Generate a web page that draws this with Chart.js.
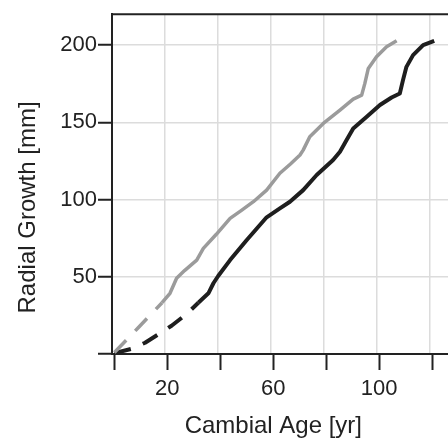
<!DOCTYPE html>
<html>
<head>
<meta charset="utf-8">
<script src="https://cdn.jsdelivr.net/npm/chart.js@4.4.1/dist/chart.umd.min.js"></script>
<style>
  body { margin: 0; background: #fff; }
  #wrap { width: 448px; height: 439px; }
</style>
</head>
<body>
<div id="wrap"><canvas id="growthChart"></canvas></div>
<script>
// estimated (dashed) part near the pith
var grayEstAge = [0, 9, 18];
var grayEstGrowth = [1, 17, 33.2];
var blackEstAge = [0, 6.5, 11.6, 17.2, 21.6, 27.3, 31.7];
var blackEstGrowth = [0.5, 3.4, 7.3, 13.4, 18.3, 25.9, 33.2];

// measured rings (solid)
var grayAge = [18, 21, 23.5, 26.5, 31.1, 33.6, 38.5, 43.7, 48, 52.5, 57.5, 62.5, 66.5, 70.1, 71.3, 73.8, 78.9, 85.2, 90.2, 93.4, 94.6, 95.9, 99, 102.8, 106.6];
var grayGrowth = [33.2, 39.3, 49, 54, 60.8, 68.4, 77.5, 87.8, 93, 98.6, 106.1, 117, 123, 128.8, 132, 140.6, 149.3, 157.9, 165, 167.6, 175.2, 184.9, 192.4, 198.9, 202.8];
var blackAge = [31.7, 35.5, 37.4, 39.2, 43.7, 50, 57.5, 62.5, 66.3, 71.3, 76.4, 82.6, 85.2, 87.7, 90.2, 95.3, 100.3, 104.7, 107.8, 109, 110.3, 112.8, 116.6, 120.8];
var blackGrowth = [33.2, 39.3, 45.8, 50.5, 60.8, 73.8, 88.5, 94.3, 98.6, 106.1, 115.9, 125.6, 131, 138.5, 146, 153.6, 161.2, 166.1, 168.7, 177.3, 185.9, 193.5, 200, 202.8];

var xTicks = [0, 20, 40, 60, 80, 100, 120];
var xLabels = [20, 60, 100];
var yTicks = [0, 50, 100, 150, 200];
var yLabels = [50, 100, 150, 200];

function pts(xs, ys) {
    return xs.map(function (x, i) { return { x: x, y: ys[i] }; });
}

var GRAY = '#9b9b9b';
var BLACK = '#1e1e1e';
var AXIS = '#222222';
var FONT = 'Liberation Sans, Arial, sans-serif';

var topBorder = {
    id: 'topBorder',
    afterDraw: function (chart) {
        var a = chart.chartArea;
        var c = chart.ctx;
        c.save();
        c.strokeStyle = AXIS;
        c.lineWidth = 2;
        c.beginPath();
        c.moveTo(a.left - 1, a.top);
        c.lineTo(a.right, a.top);
        c.stroke();
        c.restore();
    }
};

var ctx = document.getElementById('growthChart').getContext('2d');

var chart = new Chart(ctx, {
    type: 'line',
    data: {
        datasets: [
            { data: pts(grayEstAge, grayEstGrowth), borderColor: GRAY, borderWidth: 3.5, borderDash: [17, 13] },
            { data: pts(blackEstAge, blackEstGrowth), borderColor: BLACK, borderWidth: 4, borderDash: [17, 13] },
            { data: pts(grayAge, grayGrowth), borderColor: GRAY, borderWidth: 3.5 },
            { data: pts(blackAge, blackGrowth), borderColor: BLACK, borderWidth: 4 }
        ]
    },
    options: {
        responsive: true,
        maintainAspectRatio: false,
        animation: false,
        parsing: false,
        layout: { padding: { top: 14, right: 0, left: 0, bottom: 0 } },
        elements: {
            point: { radius: 0 },
            line: { tension: 0, fill: false, borderCapStyle: 'butt', borderJoinStyle: 'round' }
        },
        plugins: {
            legend: { display: false },
            tooltip: { enabled: false }
        },
        scales: {
            x: {
                type: 'linear',
                min: -0.9,
                max: 126,
                weight: 1,
                afterFit: function (s) { s.height = 85; },
                afterBuildTicks: function (s) {
                    s.ticks = xTicks.map(function (v) { return { value: v }; });
                },
                grid: {
                    drawOnChartArea: false,
                    drawTicks: true,
                    tickLength: 16,
                    tickColor: AXIS,
                    tickWidth: 2
                },
                border: { display: true, color: AXIS, width: 2 },
                ticks: {
                    padding: 6,
                    maxRotation: 0,
                    autoSkip: false,
                    color: AXIS,
                    font: { family: FONT, size: 22 },
                    callback: function (v) { return xLabels.indexOf(v) >= 0 ? String(v) : ''; }
                },
                title: {
                    display: true,
                    text: 'Cambial Age [yr]  ',
                    color: AXIS,
                    padding: { top: 0, bottom: -2 },
                    font: { family: FONT, size: 24 }
                }
            },
            xGrid: {
                type: 'linear',
                position: 'bottom',
                min: 0.1,
                max: 127,
                weight: 0,
                afterFit: function (s) { s.height = 0; },
                afterBuildTicks: function (s) {
                    s.ticks = xTicks.map(function (v) { return { value: v }; });
                },
                grid: { color: '#dcdcdc', lineWidth: 1.5, drawTicks: false },
                border: { display: false },
                ticks: { display: false }
            },
            y: {
                type: 'linear',
                min: 0,
                max: 220,
                afterFit: function (s) { s.width = 112; },
                afterBuildTicks: function (s) {
                    s.ticks = yTicks.map(function (v) { return { value: v }; });
                },
                grid: {
                    color: function (c) { return c.tick && c.tick.value === 0 ? 'rgba(0,0,0,0)' : '#dcdcdc'; },
                    lineWidth: 1.5,
                    drawTicks: true,
                    tickLength: 14,
                    tickColor: AXIS,
                    tickWidth: 2
                },
                border: { display: true, color: AXIS, width: 2 },
                ticks: {
                    padding: 1,
                    color: AXIS,
                    font: { family: FONT, size: 22 },
                    callback: function (v) { return yLabels.indexOf(v) >= 0 ? String(v) : ''; }
                },
                title: {
                    display: true,
                    text: 'Radial Growth [mm]       ',
                    color: AXIS,
                    padding: { top: 14, bottom: 0 },
                    font: { family: FONT, size: 24 }
                }
            }
        }
    },
    plugins: [topBorder]
});
</script>
</body>
</html>
